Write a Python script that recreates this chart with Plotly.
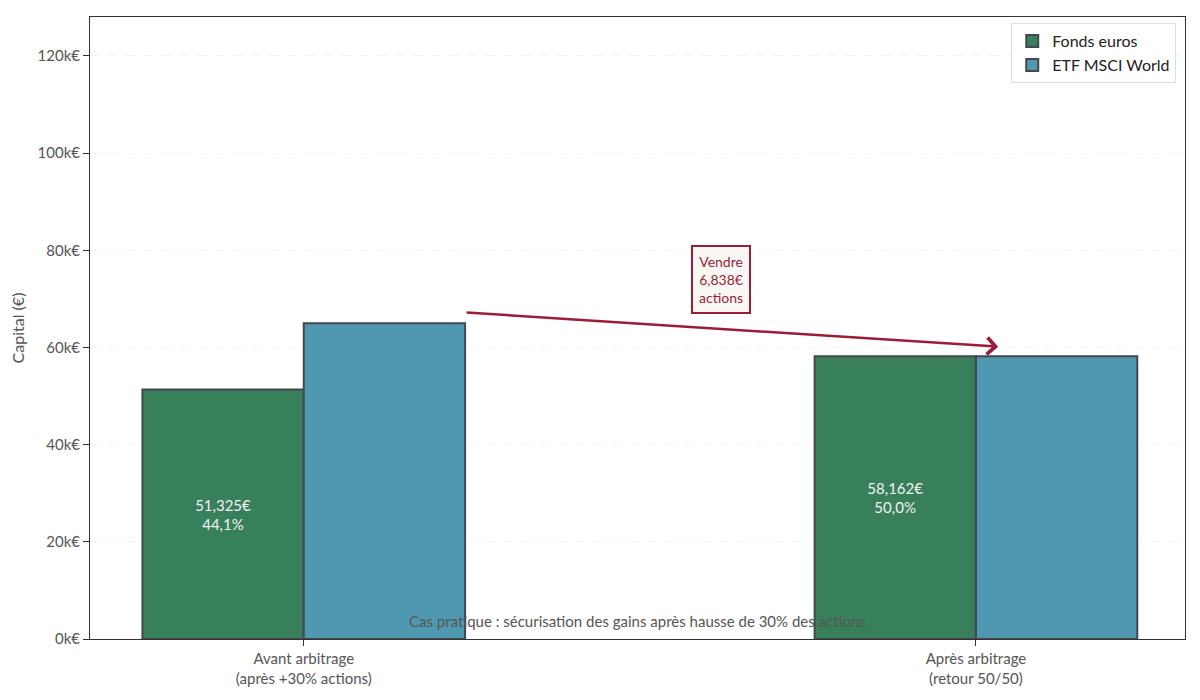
import plotly.graph_objects as go

categories = ["Avant arbitrage<br>(après +30% actions)", "Après arbitrage<br>(retour 50/50)"]
fonds_euros = [51325, 58162]
etf_msci = [65000, 58162]
fonds_labels = ["51,325€<br>44,1%", "58,162€<br>50,0%"]
y_ticks = [0, 20000, 40000, 60000, 80000, 100000, 120000]
y_tick_labels = ["0k€", "20k€", "40k€", "60k€", "80k€", "100k€", "120k€"]
vente = 6838

FONT = "Lato, 'Open Sans', sans-serif"
GREEN = "#38805c"
BLUE = "#4f98b1"
EDGE = "#45474d"
RED = "#9b1b3a"

x_pos = list(range(len(categories)))

fig = go.Figure()
fig.add_trace(go.Bar(
    x=x_pos, y=fonds_euros, name="Fonds euros",
    width=0.24, offset=-0.24,
    marker=dict(color=GREEN, line=dict(color=EDGE, width=2)),
    text=fonds_labels, textposition="inside", insidetextanchor="middle",
    textfont=dict(color="#f2f2f2", size=15, family=FONT),
    textangle=0,
))
fig.add_trace(go.Bar(
    x=x_pos, y=etf_msci, name="ETF MSCI World",
    width=0.24, offset=0,
    marker=dict(color=BLUE, line=dict(color=EDGE, width=2)),
))

# arrow from the ETF bar before to the ETF level after
fig.add_annotation(
    x=1.033, y=etf_msci[1] + 2000, ax=0.24, ay=etf_msci[0] + 2200,
    xref="x", yref="y", axref="x", ayref="y",
    text="", showarrow=True, arrowhead=4, arrowsize=1.3, arrowwidth=2.5,
    arrowcolor=RED,
)
fig.add_annotation(
    x=0.62, y=74000, xref="x", yref="y",
    text=f"Vendre<br>{vente:,}€<br>actions", showarrow=False,
    font=dict(color=RED, size=14, family=FONT),
    bgcolor="#faf8f3", bordercolor=RED, borderwidth=2, borderpad=6,
)
fig.add_annotation(
    x=0.5, y=0.012, xref="paper", yref="paper", yanchor="bottom",
    text="Cas pratique : sécurisation des gains après hausse de 30% des actions",
    showarrow=False, font=dict(color="#555555", size=15, family=FONT),
)

fig.update_layout(
    width=1200, height=700,
    margin=dict(l=82, r=23, t=9, b=69),
    plot_bgcolor="white", paper_bgcolor="white",
    font=dict(family=FONT, color="#555555", size=15),
    barmode="overlay",
    showlegend=True,
    legend=dict(x=0.992, y=0.99, xanchor="right", yanchor="top",
                bordercolor="#dddddd", borderwidth=1, bgcolor="white",
                font=dict(size=16, color="#222222"), tracegroupgap=2),
    xaxis=dict(
        range=[-0.318, 1.311], tickvals=x_pos, ticktext=categories,
        showline=True, linecolor="#333333", linewidth=1, mirror=True,
        ticks="outside", ticklen=6, tickcolor="#333333", showgrid=False,
        tickfont=dict(size=15, color="#555555"),
    ),
    yaxis=dict(
        range=[0, 128000], tickvals=y_ticks, ticktext=y_tick_labels,
        showline=True, linecolor="#333333", linewidth=1, mirror=True,
        ticks="outside", ticklen=6, tickcolor="#333333",
        showgrid=True, gridcolor="#f3f3f3", griddash="dash", gridwidth=1,
        title=dict(text="Capital (€)", font=dict(size=16, color="#555555"), standoff=10),
        tickfont=dict(size=15, color="#555555"), zeroline=False,
    ),
)

fig.write_html("out.html")
